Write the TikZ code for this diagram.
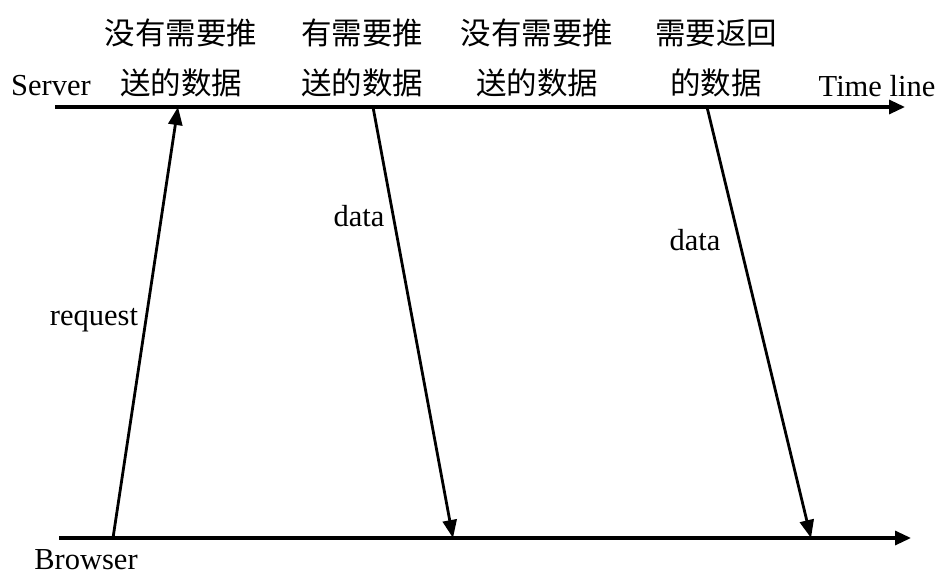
\documentclass[tikz,border=0pt]{standalone}
\usepackage{fontspec}
\setmainfont{Liberation Serif}
\newfontfamily\cjk{Noto Sans CJK SC}
\usetikzlibrary{arrows.meta}
\begin{document}
\begin{tikzpicture}[x=1pt,y=-1pt,
  axis/.style={line width=3.2pt,-{Triangle[length=16pt,width=14pt]}},
  msg/.style={line width=2.8pt,-{Triangle[length=18pt,width=14pt]}},
  lbl/.style={font=\fontsize{30.5}{30.5}\selectfont,inner sep=0pt},
  cn/.style={font=\cjk\fontsize{30.5}{30.5}\selectfont,inner sep=0pt}]
\useasboundingbox (0,0) rectangle (941,575);
% time lines
\coordinate (s0) at (55,107);
\coordinate (s1) at (905,107);
\coordinate (b0) at (59,538);
\coordinate (b1) at (911,538);
\draw[axis] (s0) -- (s1);
\draw[axis] (b0) -- (b1);
% labels of lines
\node[lbl] (server) at (51,86) {Server};
\node[lbl] (timeline) at (877,86) {Time line};
\node[lbl] (browser) at (86,560) {Browser};
% message end points
\coordinate (rq0) at (113,538);
\coordinate (rq1) at (178,107);
\coordinate (d10) at (373,107);
\coordinate (d11) at (453,538);
\coordinate (d20) at (707,107);
\coordinate (d21) at (811,538);
\draw[msg] (rq0) -- (rq1);
\draw[msg] (d10) -- (d11);
\draw[msg] (d20) -- (d21);
\node[lbl] (req) at (94,320) {request};
\node[lbl] (data1) at (359,216) {data};
\node[lbl] (data2) at (695,240) {data};
% Chinese annotations
\node[cn] (t1a) at (181,33) {没有需要推};
\node[cn] (t1b) at (181,83) {送的数据};
\node[cn] (t2a) at (362,33) {有需要推};
\node[cn] (t2b) at (362,83) {送的数据};
\node[cn] (t3a) at (537,33) {没有需要推};
\node[cn] (t3b) at (537,83) {送的数据};
\node[cn] (t4a) at (716,33) {需要返回};
\node[cn] (t4b) at (716,83) {的数据};
\end{tikzpicture}
\end{document}
